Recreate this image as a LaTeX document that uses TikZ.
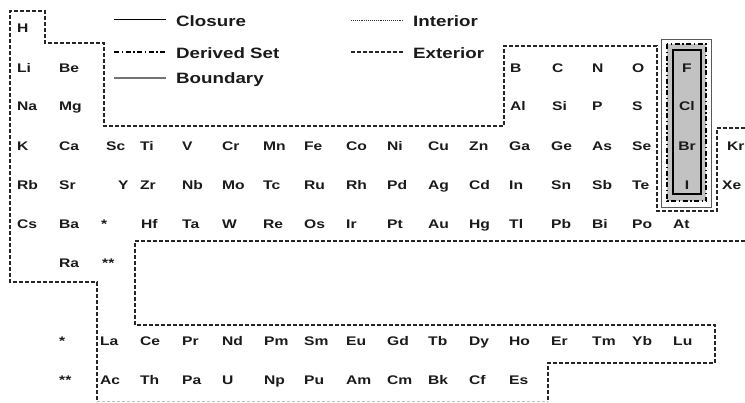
\documentclass[tikz,border=0pt]{standalone}
\usepackage{fontspec}
\newfontfamily\elfont{Liberation Sans}[FakeStretch=1.25]
\definecolor{ink}{HTML}{1A1A1A}
\definecolor{halofill}{HTML}{C2C2C2}
\begin{document}
\begin{tikzpicture}[x=1pt,y=-1pt,
  el/.style={anchor=base west,inner sep=0pt,text=ink,font=\elfont\fontsize{12.5}{14}\selectfont\bfseries},
  elc/.style={el,anchor=base},
  lg/.style={anchor=base west,inner sep=0pt,text=ink,font=\elfont\fontsize{15}{18}\selectfont\bfseries},
  closureline/.style={line width=1.3pt,black},
  derivedline/.style={line width=1.2pt,black,dash pattern=on 5pt off 2.5pt on 1.5pt off 2.5pt},
  boundaryline/.style={line width=1.3pt,black!55},
  interiorline/.style={line width=1pt,black!80,dash pattern=on 1pt off 0.9pt},
  exteriorline/.style={line width=1.5pt,black!85,dash pattern=on 4pt off 2pt},
]
\useasboundingbox (0,0) rectangle (745,402);

% legend
\draw[closureline]  (114,19.5) -- (166,19.5);
\draw[derivedline]  (114,52) -- (166,52);
\draw[boundaryline] (114,78) -- (166,78);
\draw[interiorline] (351,20) -- (403,20);
\draw[exteriorline] (351,52) -- (403,52);
\node[lg] (lclosure)  at (176,26) {Closure};
\node[lg] (lderived)  at (176,58) {Derived Set};
\node[lg] (lboundary) at (176,83) {Boundary};
\node[lg] (linterior) at (413,26) {Interior};
\node[lg] (lexterior) at (413,58) {Exterior};

% exterior outline of the table
\draw[exteriorline] (745,128) -- (717,128) -- (717,211) -- (657,211) -- (657,46)
  -- (504,46) -- (504,126) -- (104,126) -- (104,43) -- (45,43) -- (45,11)
  -- (10,11) -- (10,282) -- (97,282) -- (97,402);
\draw[exteriorline] (745,241) -- (135,241) -- (135,325) -- (715,325) -- (715,363)
  -- (548,363) -- (548,402);
\draw[line width=0.6pt,black!25,dash pattern=on 3pt off 2pt] (97,401) -- (548,401);

% halogen column: boundary, derived set, closure
\draw[line width=0.8pt,black!65,fill=white] (661,39) rectangle (711,207);
\draw[derivedline,fill=halofill] (667,44) rectangle (706,201);
\draw[closureline,line width=1.2pt,fill=halofill] (673,50) rectangle (701,194);

% elements
\node[el] (eH) at (17,32) {H};
\foreach \x/\s in {17/Li,59/Be,510/B,552/C,592/N,632/O}
  \node[el] (e\s) at (\x,72) {\s};
\foreach \x/\s in {17/Na,59/Mg,510/Al,552/Si,592/P,632/S}
  \node[el] (e\s) at (\x,110) {\s};
\foreach \x/\s in {17/K,59/Ca,106/Sc,140/Ti,182/V,222/Cr,263/Mn,304/Fe,346/Co,387/Ni,428/Cu,469/Zn,509/Ga,551/Ge,592/As,632/Se,727/Kr}
  \node[el] (e\s) at (\x,150) {\s};
\foreach \x/\s in {17/Rb,59/Sr,118/Y,140/Zr,182/Nb,222/Mo,263/Tc,304/Ru,346/Rh,387/Pd,428/Ag,469/Cd,509/In,551/Sn,592/Sb,632/Te,722/Xe}
  \node[el] (e\s) at (\x,189) {\s};
\foreach \x/\s in {17/Cs,59/Ba,141/Hf,182/Ta,222/W,263/Re,304/Os,346/Ir,387/Pt,428/Au,469/Hg,509/Tl,551/Pb,592/Bi,632/Po,673/At}
  \node[el] (e\s) at (\x,228) {\s};
\node[el] (eRa) at (59,267) {Ra};
\node[el] (starA) at (101,228) {*};
\node[el] (starB) at (102,267) {**};
\foreach \x/\s in {100/La,140/Ce,182/Pr,222/Nd,264/Pm,304/Sm,346/Eu,387/Gd,428/Tb,469/Dy,509/Ho,551/Er,592/Tm,632/Yb,673/Lu}
  \node[el] (e\s) at (\x,345) {\s};
\foreach \x/\s in {100/Ac,140/Th,182/Pa,222/U,264/Np,304/Pu,346/Am,387/Cm,428/Bk,469/Cf,509/Es}
  \node[el] (e\s) at (\x,384) {\s};
\node[el] (starC) at (59,345) {*};
\node[el] (starD) at (59,384) {**};

% halogens
\node[elc] (eF)  at (687,72)  {F};
\node[elc] (eCl) at (687,110) {Cl};
\node[elc] (eBr) at (687,150) {Br};
\node[elc] (eI)  at (687,189) {I};
\end{tikzpicture}
\end{document}
